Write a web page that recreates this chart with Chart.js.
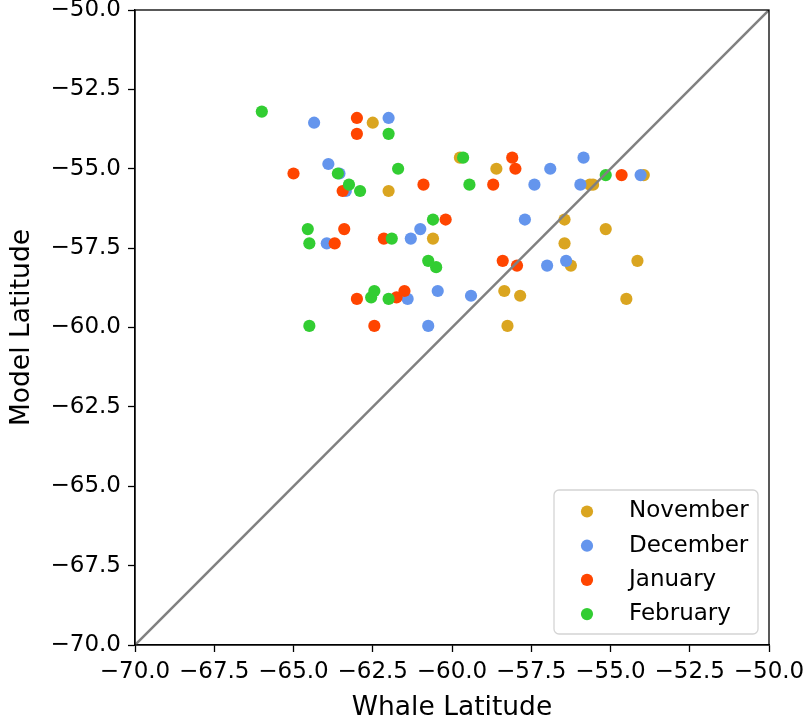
<!DOCTYPE html>
<html>
<head>
<meta charset="utf-8">
<script src="https://cdn.jsdelivr.net/npm/chart.js@4"></script>
<style>
  html, body { margin: 0; padding: 0; background: #fff; }
  #wrap { width: 806px; height: 725px; }
</style>
</head>
<body>
<div id="wrap"><canvas id="latChart" width="806" height="725"></canvas></div>
<script>
// valori (whale = asse x, model = asse y)
const monthNames = ["November", "December", "January", "February"];

const novWhale = [-62.5, -62.0, -60.6, -59.75, -58.6, -55.65, -55.55, -53.95, -56.45, -55.15, -56.45, -56.25, -54.15, -58.35, -57.85, -54.5, -58.25];
const novModel = [-53.55, -55.7, -57.2, -54.65, -55.0, -55.5, -55.5, -55.2, -56.6, -56.9, -57.35, -58.05, -57.9, -58.85, -59.0, -59.1, -59.95];

const decWhale = [-64.35, -62.0, -63.9, -63.55, -63.35, -63.95, -61.3, -61.0, -61.4, -60.45, -60.75, -55.85, -56.9, -54.05, -57.4, -55.95, -57.7, -57.0, -56.4, -59.4];
const decModel = [-53.55, -53.4, -54.85, -55.15, -55.7, -57.35, -57.2, -56.9, -59.1, -58.85, -59.95, -54.65, -55.0, -55.2, -55.5, -55.5, -56.6, -58.05, -57.9, -59.0];

const janWhale = [-63.0, -63.0, -65.0, -60.9, -63.45, -63.4, -63.7, -62.15, -63.0, -61.75, -61.5, -62.45, -58.1, -58.0, -54.65, -58.7, -60.2, -58.4, -57.95];
const janModel = [-53.4, -53.9, -55.15, -55.5, -55.7, -56.9, -57.35, -57.2, -59.1, -59.05, -58.85, -59.95, -54.65, -55.0, -55.2, -55.5, -56.6, -57.9, -58.05];

const febWhale = [-66.0, -62.0, -63.6, -61.7, -63.25, -62.9, -60.6, -64.55, -64.5, -61.9, -60.75, -60.5, -62.55, -62.45, -62.0, -64.5, -59.65, -55.15, -59.45];
const febModel = [-53.2, -53.9, -55.15, -55.0, -55.5, -55.7, -56.6, -56.9, -57.35, -57.2, -57.9, -58.1, -59.05, -58.85, -59.1, -59.95, -54.65, -55.2, -55.5];

// linea 1:1
const diagLine = [-70, -50];
const axisMin = -70, axisMax = -50, axisStep = 2.5;

const monthColors = ["#DAA520", "#6495ED", "#FF4500", "#32CD32"];
const FONT = '"DejaVu Sans", sans-serif';

function toPoints(xs, ys) {
    return xs.map((x, i) => ({ x: x, y: ys[i] }));
}

function fmtTick(v) {
    return (v < 0 ? "\u2212" : "") + Math.abs(v).toFixed(1);
}

const series = [
    toPoints(novWhale, novModel),
    toPoints(decWhale, decModel),
    toPoints(janWhale, janModel),
    toPoints(febWhale, febModel)
];

const scatterSets = series.map((pts, i) => ({
    type: "scatter",
    label: monthNames[i],
    data: pts,
    backgroundColor: monthColors[i],
    borderWidth: 0,
    pointRadius: 6.1,
    pointHoverRadius: 6.1,
    order: 4 - i
}));

const lineSet = {
    type: "line",
    label: "1:1",
    data: toPoints(diagLine, diagLine),
    borderColor: "#808080",
    borderWidth: 2.5,
    pointRadius: 0,
    fill: false,
    order: 0
};

// cornice sopra e a destra + legenda dentro il grafico
const framePlugin = {
    id: "frame",
    afterDraw(chart) {
        const { ctx, chartArea: a } = chart;
        ctx.save();
        ctx.strokeStyle = "#000";
        ctx.lineWidth = 1.3;
        ctx.strokeRect(a.left, a.top, a.right - a.left, a.bottom - a.top);

        // legenda
        const w = 204, h = 144;
        const bx = a.right - 11 - w, by = a.bottom - 11 - h;
        ctx.beginPath();
        ctx.roundRect(bx, by, w, h, 5);
        ctx.fillStyle = "rgba(255,255,255,0.85)";
        ctx.fill();
        ctx.strokeStyle = "#d4d4d4";
        ctx.lineWidth = 1.3;
        ctx.stroke();

        ctx.font = "23px " + FONT;
        ctx.textBaseline = "middle";
        ctx.textAlign = "left";
        scatterSets.forEach((ds, i) => {
            const yy = by + 21.5 + i * 34.2;
            ctx.beginPath();
            ctx.arc(bx + 33, yy, 6.1, 0, Math.PI * 2);
            ctx.fillStyle = ds.backgroundColor;
            ctx.fill();
            ctx.fillStyle = "#000";
            ctx.fillText(ds.label, bx + 75, yy);
        });
        ctx.restore();
    }
};

function axisOpts(title, isX) {
    return {
        type: "linear",
        min: axisMin,
        max: axisMax,
        border: { display: true, color: "#000", width: 1.3 },
        grid: {
            display: true,
            drawOnChartArea: false,
            drawTicks: true,
            tickLength: 7,
            tickColor: "#000",
            tickWidth: 1.3
        },
        ticks: {
            stepSize: axisStep,
            color: "#000",
            padding: isX ? 6 : 7,
            maxRotation: 0,
            autoSkip: false,
            font: { family: FONT, size: 23 },
            callback: v => fmtTick(v)
        },
        title: {
            display: true,
            text: title,
            color: "#000",
            font: { family: FONT, size: 26.5 },
            padding: isX ? { top: 0, bottom: 1 } : { top: 6, bottom: 0 }
        },
        afterFit(scale) {
            if (isX) {
                scale.height = 80;
                scale.paddingLeft = 0;
                scale.paddingRight = 0;
            } else {
                scale.width = 135;
                scale.paddingTop = 0;
                scale.paddingBottom = 0;
            }
        }
    };
}

new Chart(document.getElementById("latChart").getContext("2d"), {
    data: { datasets: scatterSets.concat([lineSet]) },
    options: {
        responsive: false,
        animation: false,
        layout: { padding: { top: 10, right: 37, left: 0, bottom: 0 } },
        plugins: {
            legend: { display: false },
            tooltip: { enabled: false }
        },
        scales: {
            x: axisOpts("Whale Latitude", true),
            y: axisOpts("Model Latitude", false)
        }
    },
    plugins: [framePlugin]
});
</script>
</body>
</html>
